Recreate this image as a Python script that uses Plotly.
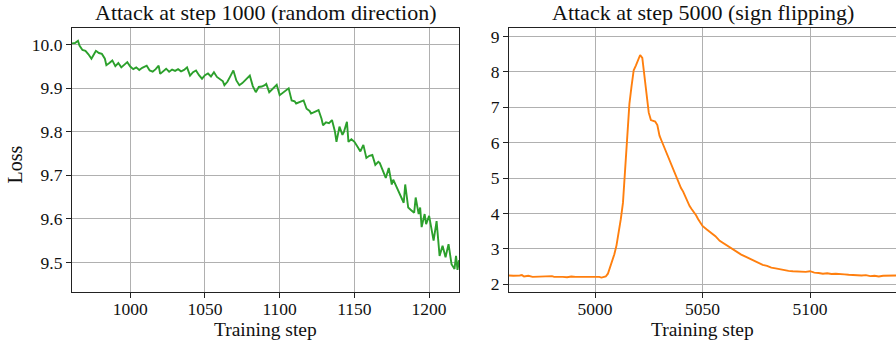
import plotly.graph_objects as go

# ---- Left panel: random-direction attack at step 1000 ----
steps_random = [961, 963, 965, 966, 968, 970, 972, 974, 976, 977, 979, 981, 983, 984, 986, 988,
                990, 992, 994, 996, 998, 1000, 1002, 1004, 1006, 1008, 1011, 1013, 1015, 1017,
                1019, 1020, 1022, 1024, 1026, 1028, 1030, 1032, 1034, 1036, 1038, 1040, 1042,
                1044, 1046, 1048, 1050, 1052, 1054, 1056, 1058, 1060, 1062, 1063, 1065, 1067,
                1069, 1071, 1073, 1075, 1077, 1080, 1082, 1084, 1086, 1088, 1090, 1091, 1093,
                1095, 1098, 1100, 1102, 1104, 1106, 1108, 1110, 1111, 1113, 1116, 1118, 1120,
                1121, 1123, 1126, 1128, 1129, 1131, 1133, 1135, 1137, 1138, 1140, 1142, 1143,
                1145, 1146, 1148, 1150, 1152, 1154, 1156, 1158, 1160, 1162, 1164, 1166, 1167,
                1169, 1171, 1173, 1175, 1176, 1178, 1179, 1181, 1183, 1184, 1186, 1188, 1190,
                1191, 1193, 1194, 1195, 1197, 1198, 1200, 1201, 1203, 1205, 1207, 1209, 1211,
                1213, 1215, 1217, 1218, 1219, 1220]
loss_random = [10.003, 10.004, 10.009, 9.998, 9.988, 9.986, 9.978, 9.968, 9.980, 9.986, 9.981,
               9.979, 9.968, 9.953, 9.958, 9.964, 9.951, 9.958, 9.948, 9.955, 9.960, 9.950,
               9.944, 9.948, 9.942, 9.947, 9.952, 9.941, 9.938, 9.944, 9.952, 9.933, 9.940,
               9.945, 9.938, 9.943, 9.940, 9.944, 9.939, 9.942, 9.948, 9.929, 9.937, 9.941,
               9.930, 9.922, 9.930, 9.934, 9.927, 9.937, 9.926, 9.921, 9.916, 9.907, 9.915,
               9.928, 9.941, 9.918, 9.907, 9.912, 9.918, 9.929, 9.905, 9.891, 9.903, 9.904,
               9.907, 9.910, 9.891, 9.897, 9.908, 9.884, 9.889, 9.893, 9.900, 9.872, 9.870,
               9.865, 9.868, 9.872, 9.853, 9.848, 9.842, 9.846, 9.850, 9.830, 9.815, 9.822,
               9.820, 9.827, 9.800, 9.777, 9.812, 9.793, 9.800, 9.823, 9.777, 9.783, 9.777,
               9.766, 9.755, 9.770, 9.740, 9.745, 9.747, 9.724, 9.731, 9.728, 9.710, 9.694,
               9.717, 9.679, 9.690, 9.675, 9.664, 9.650, 9.637, 9.679, 9.626, 9.620, 9.614,
               9.649, 9.611, 9.626, 9.581, 9.611, 9.588, 9.607, 9.585, 9.550, 9.595, 9.515,
               9.538, 9.512, 9.542, 9.496, 9.485, 9.515, 9.483, 9.505]

# ---- Right panel: sign-flipping attack at step 5000 ----
steps_flip = [4960, 4962, 4965, 4966, 4967, 4969, 4971, 4974, 4976, 4978, 4980, 4981, 4983,
              4985, 4987, 4989, 4991, 4993, 4995, 4997, 5000, 5002, 5003, 5005, 5006, 5007,
              5008, 5009, 5010, 5011, 5012, 5013, 5014, 5015, 5016, 5017, 5018, 5019, 5020,
              5021, 5022, 5023, 5024, 5025, 5026, 5027, 5028, 5029, 5030, 5031, 5032, 5033,
              5034, 5035, 5036, 5037, 5038, 5039, 5040, 5041, 5042, 5043, 5044, 5045, 5046,
              5047, 5048, 5049, 5050, 5052, 5054, 5056, 5058, 5060, 5062, 5064, 5066, 5068,
              5070, 5072, 5074, 5076, 5078, 5080, 5082, 5084, 5086, 5088, 5090, 5092, 5094,
              5096, 5098, 5100, 5102, 5104, 5106, 5108, 5110, 5112, 5114, 5116, 5118, 5120,
              5122, 5124, 5126, 5128, 5130, 5132, 5134, 5136, 5138, 5140]
loss_flip = [2.25, 2.24, 2.25, 2.26, 2.22, 2.24, 2.21, 2.22, 2.21, 2.22, 2.23, 2.21, 2.22,
             2.21, 2.20, 2.22, 2.21, 2.21, 2.22, 2.21, 2.22, 2.21, 2.19, 2.22, 2.30, 2.47,
             2.65, 2.85, 3.10, 3.45, 3.84, 4.30, 5.24, 6.45, 7.10, 7.60, 8.05, 8.18, 8.32,
             8.48, 8.40, 7.85, 7.30, 6.85, 6.64, 6.63, 6.60, 6.50, 6.20, 6.05, 5.90, 5.76,
             5.60, 5.47, 5.32, 5.18, 5.03, 4.88, 4.72, 4.62, 4.48, 4.35, 4.21, 4.12, 4.05,
             3.95, 3.84, 3.74, 3.65, 3.55, 3.46, 3.36, 3.23, 3.15, 3.06, 2.99, 2.92, 2.84,
             2.78, 2.72, 2.66, 2.59, 2.55, 2.52, 2.47, 2.45, 2.42, 2.40, 2.38, 2.37, 2.36,
             2.34, 2.35, 2.37, 2.33, 2.32, 2.30, 2.31, 2.29, 2.30, 2.28, 2.28, 2.27, 2.26,
             2.27, 2.25, 2.26, 2.23, 2.24, 2.22, 2.24, 2.25, 2.24, 2.25]

titles = ["Attack at step 1000 (random direction)", "Attack at step 5000 (sign flipping)"]
x_label = "Training step"
y_label = "Loss"

W, H = 896, 344
FONT = "Liberation Serif"
GRID = "#b0b0b0"

# panel boxes in pixels (left, right, top, bottom)
left_box = (72, 459, 27, 294)
right_box = (509, 896, 27, 294)


def xdom(b):
    return [b[0] / W, b[1] / W]


def ydom(b):
    return [1 - b[3] / H, 1 - b[2] / H]


fig = go.Figure()
fig.add_trace(go.Scatter(x=steps_random, y=loss_random, mode="lines",
                         line=dict(color="#2ca02c", width=1.9), xaxis="x", yaxis="y",
                         showlegend=False))
fig.add_trace(go.Scatter(x=steps_flip, y=loss_flip, mode="lines",
                         line=dict(color="#ff7f0e", width=1.9), xaxis="x2", yaxis="y2",
                         showlegend=False))

axis_common = dict(showgrid=True, gridcolor=GRID, gridwidth=1, zeroline=False,
                   showline=True, linecolor="#222", linewidth=1.1,
                   ticks="outside", ticklen=5, tickwidth=1, tickcolor="#222",
                   tickfont=dict(family=FONT, size=17.5, color="#111"))

fig.update_layout(
    width=W, height=H,
    margin=dict(l=0, r=0, t=0, b=0),
    paper_bgcolor="white", plot_bgcolor="white",
    font=dict(family=FONT, color="#111"),
    xaxis=dict(domain=xdom(left_box), range=[961, 1220], ticklabelstandoff=-4,
               tickvals=[1000, 1050, 1100, 1150, 1200], mirror=True, anchor="y", **axis_common),
    yaxis=dict(domain=ydom(left_box), range=[9.431, 10.039],
               tickvals=[9.5, 9.6, 9.7, 9.8, 9.9, 10.0], tickformat=".1f",
               mirror=True, anchor="x", **axis_common),
    xaxis2=dict(domain=xdom(right_box), range=[4960, 5140], ticklabelstandoff=-4,
                tickvals=[5000, 5050, 5100], mirror=True, anchor="y2", **axis_common),
    yaxis2=dict(domain=ydom(right_box), range=[1.77, 9.25],
                tickvals=[2, 3, 4, 5, 6, 7, 8, 9], mirror=False, anchor="x2", **axis_common),
)

annotations = []
for box, t in zip([left_box, right_box], titles):
    cx = (box[0] + box[1]) / 2 / W
    annotations.append(dict(text=t, x=cx, y=1 - 12 / H, xref="paper", yref="paper",
                            xanchor="center", yanchor="middle", showarrow=False,
                            font=dict(family=FONT, size=22, color="#111")))
    annotations.append(dict(text=x_label, x=cx, y=0, xref="paper", yref="paper",
                            xanchor="center", yanchor="bottom", showarrow=False,
                            font=dict(family=FONT, size=19.5, color="#111")))
annotations.append(dict(text=y_label, x=15 / W, y=1 - 165 / H, xref="paper", yref="paper",
                        xanchor="center", yanchor="middle", showarrow=False, textangle=-90,
                        font=dict(family=FONT, size=20, color="#111")))
fig.update_layout(annotations=annotations)

fig.write_html("out.html")
